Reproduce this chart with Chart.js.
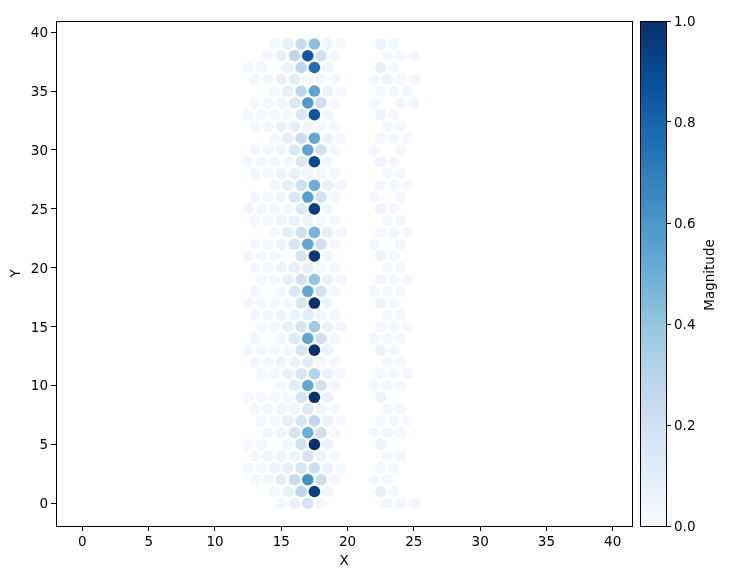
<!DOCTYPE html>
<html>
<head>
<meta charset="utf-8">
<script src="https://cdn.jsdelivr.net/npm/chart.js@4/dist/chart.umd.min.js"></script>
<style>
  html, body { margin: 0; padding: 0; background: #fff; }
  canvas { position: absolute; top: 0; }
  #main { left: 0; }
  #bar { left: 633px; }
</style>
</head>
<body>
<canvas id="main" width="638" height="575"></canvas>
<canvas id="bar" width="121" height="575"></canvas>
<script>
// x positions of each row, index = y
const rowX = [
  [15,16,17,18,23,24,25],
  [14.5,15.5,16.5,17.5,18.5,22.5,23.5],
  [13,14,15,16,17,18,19,22,23],
  [12.5,13.5,14.5,15.5,16.5,17.5,18.5,19.5,22.5,23.5],
  [13,14,15,16,17,18,19,23,24],
  [12.5,13.5,15.5,16.5,17.5,18.5,22.5],
  [14,15,16,17,18,19,22,23,24],
  [13.5,14.5,15.5,16.5,17.5,18.5,19.5,22.5,23.5,24.5],
  [13,14,15,16,17,18,19,23,24],
  [12.5,13.5,14.5,15.5,16.5,17.5,18.5,22.5],
  [15,16,17,18,19,22,23,24],
  [13.5,14.5,15.5,16.5,17.5,18.5,19.5,22.5,23.5,24.5],
  [13,14,15,16,17,18,19,23,24],
  [12.5,13.5,14.5,15.5,16.5,17.5,18.5,22.5,23.5],
  [13,15,16,17,18,19,22,23,24],
  [13.5,14.5,15.5,16.5,17.5,18.5,19.5,22.5,23.5,24.5],
  [13,14,15,16,17,18,19,23,24],
  [12.5,13.5,14.5,15.5,16.5,17.5,18.5,22.5,23.5],
  [13,15,16,17,18,19,22,23,24],
  [13.5,14.5,15.5,16.5,17.5,18.5,19.5,22.5,23.5,24.5],
  [13,14,15,16,17,18,19,23,24],
  [12.5,13.5,14.5,16.5,17.5,18.5,22.5,23.5],
  [13,14,15,16,17,18,19,22,24],
  [14.5,15.5,16.5,17.5,18.5,19.5,22.5,23.5,24.5],
  [13,14,15,16,17,18,19,23,24],
  [12.5,13.5,14.5,15.5,16.5,17.5,18.5,22.5,23.5],
  [13,14,15,16,17,18,19,22,24],
  [14.5,15.5,16.5,17.5,18.5,19.5,22.5,23.5,24.5],
  [13,14,15,16,17,18,19,23,24],
  [12.5,13.5,14.5,15.5,16.5,17.5,18.5,22.5,23.5],
  [13,14,15,16,17,18,19,22,24],
  [14.5,15.5,16.5,17.5,18.5,19.5,22.5,23.5,24.5],
  [13,14,15,16,17,18,19,23,24],
  [12.5,13.5,14.5,15.5,16.5,17.5,18.5,22.5,23.5],
  [13,14,15,16,17,18,19,22,24,25],
  [14.5,15.5,16.5,17.5,18.5,19.5,22.5,23.5,24.5],
  [13,14,15,16,17,18,19,22,23,24,25],
  [12.5,13.5,15.5,16.5,17.5,18.5,22.5,23.5],
  [14,15,16,17,18,19,23,24,25],
  [14.5,15.5,16.5,17.5,18.5,19.5,22.5,23.5]
];
// magnitudes, same shape as rowX
const rowMag = [
  [.03,.07,.18,.03,.03,.03,.03],
  [.03,.07,.27,.95,.04,.08,.03],
  [.03,.04,.09,.25,.62,.22,.03,.03,.03],
  [.03,.03,.05,.1,.18,.22,.07,.03,.03,.03],
  [.03,.05,.05,.05,.18,.06,.03,.03,.03],
  [.03,.03,.04,.2,1,.06,.06],
  [.03,.05,.17,.5,.2,.03,.03,.03,.03],
  [.02,.03,.09,.17,.27,.07,.03,.03,.03,.02],
  [.03,.04,.05,.05,.14,.04,.03,.03,.03],
  [.03,.03,.03,.03,.18,1,.07,.06],
  [.03,.12,.53,.2,.03,.03,.03,.03],
  [.02,.03,.08,.17,.3,.07,.03,.03,.03,.03],
  [.03,.03,.06,.06,.11,.03,.03,.03,.03],
  [.03,.03,.03,.03,.17,1,.06,.06,.03],
  [.03,.03,.13,.53,.2,.03,.03,.03,.03],
  [.02,.03,.08,.17,.37,.07,.03,.03,.03,.03],
  [.03,.04,.06,.06,.1,.03,.03,.03,.03],
  [.03,.03,.03,.03,.16,1,.05,.06,.03],
  [.03,.03,.14,.53,.2,.03,.03,.03,.03],
  [.02,.03,.08,.2,.4,.07,.03,.03,.03,.03],
  [.03,.03,.06,.09,.08,.02,.03,.03,.03],
  [.03,.03,.03,.17,.97,.04,.06,.03],
  [.03,.03,.05,.16,.53,.2,.03,.03,.03],
  [.03,.1,.2,.47,.09,.03,.03,.04,.03],
  [.03,.03,.06,.08,.06,.02,.03,.03,.03],
  [.03,.03,.03,.03,.14,.95,.04,.06,.03],
  [.03,.03,.05,.16,.56,.2,.03,.03,.03],
  [.03,.09,.22,.5,.08,.03,.03,.03,.02],
  [.03,.03,.06,.08,.05,.02,.03,.03,.03],
  [.02,.03,.03,.03,.14,.9,.04,.06,.03],
  [.03,.03,.05,.15,.55,.2,.03,.03,.03],
  [.03,.09,.24,.53,.07,.03,.03,.03,.02],
  [.03,.03,.07,.09,.04,.03,.03,.03,.03],
  [.02,.03,.03,.03,.17,.85,.04,.05,.03],
  [.03,.03,.04,.14,.58,.2,.03,.03,.03,.03],
  [.03,.09,.28,.55,.07,.03,.03,.03,.03],
  [.03,.04,.07,.1,.04,.03,.03,.03,.05,.03,.03],
  [.02,.02,.06,.28,.76,.04,.08,.03],
  [.03,.08,.28,.85,.2,.03,.03,.03,.03],
  [.03,.1,.25,.42,.05,.03,.06,.04]
];
const xTicks = [0,5,10,15,20,25,30,35,40];
const yTicks = [0,5,10,15,20,25,30,35,40];
const barTicks = [0,0.2,0.4,0.6,0.8,1];

// Blues colormap
const blues = ['#f7fbff','#deebf7','#c6dbef','#9ecae1','#6baed6','#4292c6','#2171b5','#08519c','#08306b'];

function hexRgb(h) {
  return [1,3,5].map(i => parseInt(h.substr(i,2),16));
}
function bluesColor(v) {
  const p = Math.min(v,1) * (blues.length-1);
  const i = Math.min(Math.floor(p), blues.length-2);
  const a = hexRgb(blues[i]), b = hexRgb(blues[i+1]);
  const c = a.map((n,k) => Math.round(n + (b[k]-n)*(p-i)));
  return `rgb(${c[0]},${c[1]},${c[2]})`;
}

const font = { family: '"DejaVu Sans"', size: 13.5 };
Chart.defaults.color = '#000';
Chart.defaults.font.family = font.family;
Chart.defaults.font.size = font.size;
Chart.defaults.animation = false;

// matplotlib style box round the plot area
const frame = {
  id: 'frame',
  afterDraw(chart) {
    const a = chart.chartArea, c = chart.ctx;
    c.save();
    c.strokeStyle = '#000';
    c.lineWidth = 1;
    c.strokeRect(Math.round(a.left)+0.5, Math.round(a.top)+0.5, Math.round(a.width), Math.round(a.height));
    c.restore();
  }
};

const points = [];
const colors = [];
rowX.forEach((xs, y) => {
  xs.forEach((x, i) => {
    points.push({ x: x, y: y });
    colors.push(bluesColor(rowMag[y][i]));
  });
});

function tickValues(list) {
  return scale => { scale.ticks = list.map(v => ({ value: v })); };
}

new Chart(document.getElementById('main'), {
  type: 'scatter',
  data: {
    datasets: [{
      data: points,
      backgroundColor: colors,
      borderWidth: 0,
      pointRadius: 5.8,
      pointHoverRadius: 5.8
    }]
  },
  options: {
    responsive: false,
    layout: { padding: { top: 21, right: 5, left: 0, bottom: 0 } },
    plugins: { legend: { display: false }, tooltip: { enabled: false } },
    scales: {
      x: {
        type: 'linear',
        min: -1.99,
        max: 41.47,
        afterBuildTicks: tickValues(xTicks),
        afterFit: s => { s.height = 49; },
        grid: { drawOnChartArea: false, tickColor: '#000', tickLength: 5, tickWidth: 1 },
        border: { color: '#000', width: 1 },
        ticks: { maxRotation: 0, autoSkip: false, padding: 3, color: '#000' },
        title: { display: true, text: 'X', color: '#000', padding: { top: 4, bottom: 5 } }
      },
      y: {
        type: 'linear',
        min: -1.93,
        max: 40.95,
        afterBuildTicks: tickValues(yTicks),
        afterFit: s => { s.width = 56; },
        grid: { drawOnChartArea: false, tickColor: '#000', tickLength: 5, tickWidth: 1 },
        border: { color: '#000', width: 1 },
        ticks: { autoSkip: false, padding: 3, labelOffset: 1.5, color: '#000' },
        title: { display: true, text: 'Y', color: '#000', padding: { top: 8, bottom: 4 } }
      }
    }
  },
  plugins: [frame]
});

// colour bar: one floating bar, filled with the colormap
function barGradient(ctx) {
  const a = ctx.chart.chartArea;
  if (!a) return blues[4];
  const g = ctx.chart.ctx.createLinearGradient(0, a.bottom, 0, a.top);
  blues.forEach((c, i) => g.addColorStop(i/(blues.length-1), c));
  return g;
}

const barTitle = {
  id: 'barTitle',
  afterDraw(chart) {
    const c = chart.ctx;
    c.save();
    c.translate(77, 275);
    c.rotate(-Math.PI/2);
    c.font = `${font.size}px ${font.family}`;
    c.fillStyle = '#000';
    c.textAlign = 'center';
    c.textBaseline = 'middle';
    c.fillText('Magnitude', 0, 0);
    c.restore();
  }
};

new Chart(document.getElementById('bar'), {
  type: 'bar',
  data: {
    labels: ['Magnitude'],
    datasets: [{
      data: [[0, 1]],
      backgroundColor: barGradient,
      barPercentage: 1,
      categoryPercentage: 1
    }]
  },
  options: {
    responsive: false,
    layout: { padding: { top: 21, right: 0, left: 7, bottom: 49 } },
    plugins: { legend: { display: false }, tooltip: { enabled: false } },
    scales: {
      x: { display: false },
      y: {
        position: 'right',
        min: 0,
        max: 1,
        afterBuildTicks: tickValues(barTicks),
        afterFit: s => { s.width = 88; },
        grid: { drawOnChartArea: false, tickColor: '#000', tickLength: 5, tickWidth: 1 },
        border: { color: '#000', width: 1 },
        ticks: { autoSkip: false, padding: 3, labelOffset: 1, color: '#000', callback: v => v.toFixed(1) }
      }
    }
  },
  plugins: [frame, barTitle]
});
</script>
</body>
</html>
